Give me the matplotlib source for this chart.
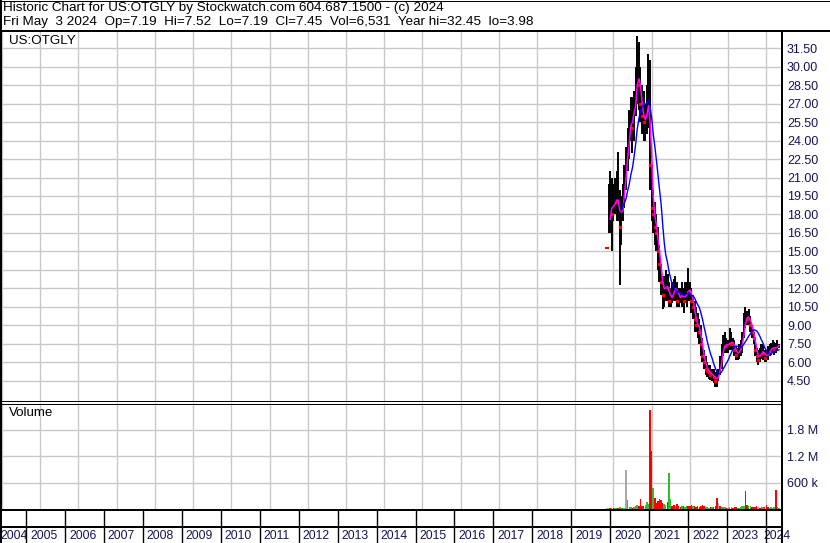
import numpy as np
import pandas as pd
import matplotlib
matplotlib.use('Agg')
import matplotlib.pyplot as plt
from matplotlib.lines import Line2D

plt.rcParams['font.family'] = ['Liberation Sans', 'DejaVu Sans']

# half-month periods, Nov 2019 .. May 2024
dates = pd.date_range('2019-11-01', '2024-05-01', freq='SMS')

high = [15.4, 20.5, 21.5, 21.0, 20.5, 21.0, 21.5, 23.1, 20.0, 19.5, 20.5, 22.0,
        23.5, 25.0, 26.5, 27.5, 27.5, 28.0, 30.0, 32.45, 32.0, 30.0, 28.5, 28.0,
        27.0, 28.5, 31.0, 30.5, 22.0, 20.0, 19.0, 18.0, 17.0, 15.5, 14.0, 13.0,
        13.0, 13.5, 13.2, 12.5, 12.0, 12.5, 12.8, 13.0, 12.5, 12.0, 12.0, 12.5,
        12.0, 12.5, 12.5, 13.7, 12.5, 12.0, 11.5, 11.0, 10.5, 10.0, 9.5, 9.0,
        8.0, 7.0, 6.5, 6.0, 5.8, 5.8, 5.5, 5.5, 5.2, 5.3, 5.5, 6.5,
        7.5, 8.2, 8.5, 8.0, 7.8, 8.8, 8.5, 8.0, 7.8, 7.3, 7.2, 7.5,
        7.8, 8.5, 10.0, 10.5, 10.2, 10.3, 9.8, 9.0, 8.5, 8.0, 7.2, 7.0,
        7.2, 7.5, 7.5, 7.0, 7.0, 7.3, 7.5, 7.6, 7.8, 7.7, 7.6, 7.8,
        7.52]
low = [15.2, 16.5, 16.5, 15.0, 17.5, 18.0, 17.5, 17.5, 12.3, 15.5, 17.5, 18.5,
       20.0, 21.5, 22.5, 24.0, 23.0, 24.0, 26.0, 27.0, 26.5, 25.5, 24.5, 24.0,
       24.0, 24.5, 25.0, 20.0, 17.5, 16.5, 15.5, 15.0, 13.5, 12.5, 11.5, 10.3,
       10.5, 11.0, 11.0, 10.5, 10.5, 10.8, 11.0, 11.0, 10.5, 10.5, 10.8, 10.5,
       10.0, 10.8, 10.5, 11.0, 11.0, 10.0, 9.5, 8.5, 8.5, 8.0, 7.5, 6.5,
       6.0, 5.5, 5.0, 4.8, 4.7, 4.6, 4.5, 4.3, 3.98, 4.0, 4.5, 5.0,
       5.5, 6.5, 6.8, 6.8, 6.8, 7.0, 7.0, 7.0, 6.5, 6.2, 6.2, 6.3,
       6.5, 6.8, 8.0, 8.8, 9.0, 9.0, 8.5, 8.0, 7.5, 6.5, 6.0, 5.8,
       6.0, 6.3, 6.2, 6.0, 6.0, 6.2, 6.5, 6.6, 6.8, 6.6, 6.8, 7.0,
       7.19]
close = [15.3, 18.5, 19.0, 18.0, 19.0, 19.5, 19.0, 19.0, 17.0, 18.5, 19.5, 21.0,
         22.5, 24.0, 25.0, 26.5, 25.0, 27.0, 28.5, 30.0, 28.5, 27.0, 26.0, 25.5,
         25.5, 27.0, 28.0, 22.0, 18.5, 18.0, 17.0, 16.5, 15.0, 14.0, 12.5, 11.5,
         12.0, 12.5, 12.0, 11.0, 11.3, 11.5, 12.0, 12.5, 11.0, 11.3, 11.5, 11.5,
         11.0, 11.5, 11.8, 12.0, 11.8, 11.0, 10.5, 9.5, 9.0, 9.0, 8.5, 7.5,
         6.5, 6.0, 5.5, 5.3, 5.2, 5.0, 5.0, 4.8, 4.5, 4.8, 5.0, 6.0,
         7.0, 7.5, 7.5, 7.3, 7.5, 7.8, 7.5, 7.6, 7.0, 6.6, 6.8, 7.0,
         7.2, 8.0, 9.5, 9.8, 9.5, 9.8, 9.0, 8.5, 8.0, 7.0, 6.5, 6.2,
         6.8, 7.0, 6.8, 6.4, 6.5, 6.8, 7.0, 7.2, 7.3, 7.0, 7.3, 7.4,
         7.45]
# volume in thousands of shares
volume_k = [15, 20, 25, 20, 15, 20, 15, 25, 40, 30, 25, 30,
            880, 200, 40, 50, 30, 45, 60, 90, 70, 225, 60, 80,
            90, 150, 120, 2250, 1330, 470, 250, 130, 180, 220, 200, 140,
            120, 100, 150, 830, 225, 80, 100, 70, 120, 60, 50, 70,
            60, 50, 80, 60, 70, 90, 60, 80, 50, 60, 40, 70,
            90, 60, 50, 40, 30, 35, 40, 45, 60, 250, 130, 60,
            50, 40, 45, 30, 30, 40, 35, 25, 45, 35, 25, 30,
            55, 70, 60, 400, 90, 70, 60, 45, 50, 40, 80, 35,
            30, 40, 45, 40, 100, 35, 30, 40, 30, 35, 430, 40,
            20]
# u = up, d = down, n = unchanged
vol_dir = ('nnduduuduuuu' 'nuuuduuuddd' 'd'
           'uuuddudddddd' 'uuduuddudddu' 'duuddduddddd'
           'dduuududddnd' 'uuuduuuddduu' 'uuudduuddddn'
           'duuddduuuudu' 'u')

price_ticks = [4.5, 6.0, 7.5, 9.0, 10.5, 12.0, 13.5, 15.0, 16.5, 18.0,
               19.5, 21.0, 22.5, 24.0, 25.5, 27.0, 28.5, 30.0, 31.5]
vol_ticks = [600000, 1200000, 1800000]
vol_labels = ['600 k', '1.2 M', '1.8 M']
years = list(range(2004, 2025))

header1 = 'Historic Chart for US:OTGLY by Stockwatch.com 604.687.1500 - (c) 2024'
header2 = 'Fri May  3 2024  Op=7.19  Hi=7.52  Lo=7.19  Cl=7.45  Vol=6,531  Year hi=32.45  lo=3.98'

# decimal year positions
t = (dates.year + (dates.dayofyear - 1) / np.where(dates.is_leap_year, 366, 365)).values
close_s = pd.Series(close)
ma_short = close_s.rolling(3, min_periods=3).mean()
ma_long = close_s.rolling(10, min_periods=10).mean()
volume = np.array(volume_k) * 1000
vcolors = [{'u': '#33bb33', 'd': '#ff0000', 'n': '#a8a8a8'}[c] for c in vol_dir]

W, H = 830, 543
fig = plt.figure(figsize=(W / 100, H / 100), dpi=100)
fig.patch.set_facecolor('white')

def box(x0, y0, x1, y1):
    # pixel box (top-left origin) -> figure fraction rect
    return [x0 / W, 1 - y1 / H, (x1 - x0) / W, (y1 - y0) / H]

xmin = 2005 - 24 / 38.95
xmax = xmin + 780 / 38.95
navy = '#14145a'
gridc = '#c8c8c8'

#price panel
ax = fig.add_axes(box(2, 32, 782, 401))
ax.vlines(t, low, high, color='black', lw=1.4)
down = [i for i in range(1, len(close)) if close[i] < close[i - 1]]
ax.plot(t[down], np.array(close)[down], ls='none', marker='s', ms=1.5, color='red')
ax.hlines(close[0], t[0] - 0.06, t[0] + 0.06, color='red', lw=1.5)
ax.plot(t, ma_short, color='#ff00ff', lw=1.1)
ax.plot(t, ma_long, color='#0000ff', lw=1.0)
ax.set_xlim(xmin, xmax)
ax.set_ylim(4.5 - 20 / 12.333, 31.5 + 16 / 12.333)
ax.set_xticks(years)
ax.set_xticklabels([])
ax.yaxis.tick_right()
ax.set_yticks(price_ticks)
ax.set_yticklabels(['%.2f' % v for v in price_ticks], fontsize=9, color=navy)
ax.tick_params(length=0, pad=3.6)
ax.grid(True, color=gridc, lw=1)
ax.set_axisbelow(True)
for s in ax.spines.values():
    s.set_visible(False)
ax.text(7 / 780, 1 - 9 / 369, 'US:OTGLY', transform=ax.transAxes, fontsize=9.6,
        ha='left', va='center')

#volume panel
axv = fig.add_axes(box(2, 403, 782, 510))
axv.bar(t, volume, width=0.04, color=vcolors, linewidth=0)
axv.set_xlim(xmin, xmax)
axv.set_ylim(-22000, 2.41e6)
axv.set_xticks(years)
axv.set_xticklabels([])
axv.yaxis.tick_right()
axv.set_yticks(vol_ticks)
axv.set_yticklabels(vol_labels, fontsize=9, color=navy)
axv.tick_params(length=0, pad=3.6)
axv.grid(True, color=gridc, lw=1)
axv.set_axisbelow(True)
for s in axv.spines.values():
    s.set_visible(False)
axv.text(7 / 780, 1 - 10 / 107, 'Volume', transform=axv.transAxes, fontsize=9.6,
         ha='left', va='center')

#year strip
axy = fig.add_axes(box(2, 510, 782, 543))
axy.set_xlim(xmin, xmax)
axy.set_ylim(0, 1)
axy.axis('off')
for y in years[1:]:
    axy.axvline(y, color='black', lw=1)
px = 1 / 38.95
for y in years:
    if y == years[0]:
        x_lab = xmin - 2 * px
    elif y == years[-1]:
        x_lab = y - 3 * px
    else:
        x_lab = y + 4 * px
    axy.text(x_lab, 0.22, str(y), ha='left', va='center', fontsize=8.8, color=navy,
             clip_on=False)

#frame lines in pixel coords
def line(x0, y0, x1, y1, lw):
    fig.add_artist(Line2D([x0 / W, x1 / W], [1 - y0 / H, 1 - y1 / H],
                          color='black', lw=lw * 0.72, transform=fig.transFigure))

line(0, 0.5, 830, 0.5, 1)
line(829.5, 0, 829.5, 31, 1)
line(0, 31, 830, 31, 2)
line(1, 0, 1, 543, 2)
line(781.5, 31, 781.5, 543, 2)
line(0, 401, 782, 401, 1)
line(0, 403.5, 782, 403.5, 1)
line(0, 510, 782, 510, 2)
line(0, 527, 782, 527, 2)

fig.text(3 / W, 1 - 8.5 / H, header1, fontsize=9.7, ha='left', va='center')
fig.text(3 / W, 1 - 22.5 / H, header2, fontsize=9.7, ha='left', va='center')

fig.savefig('out.png', dpi=100)
